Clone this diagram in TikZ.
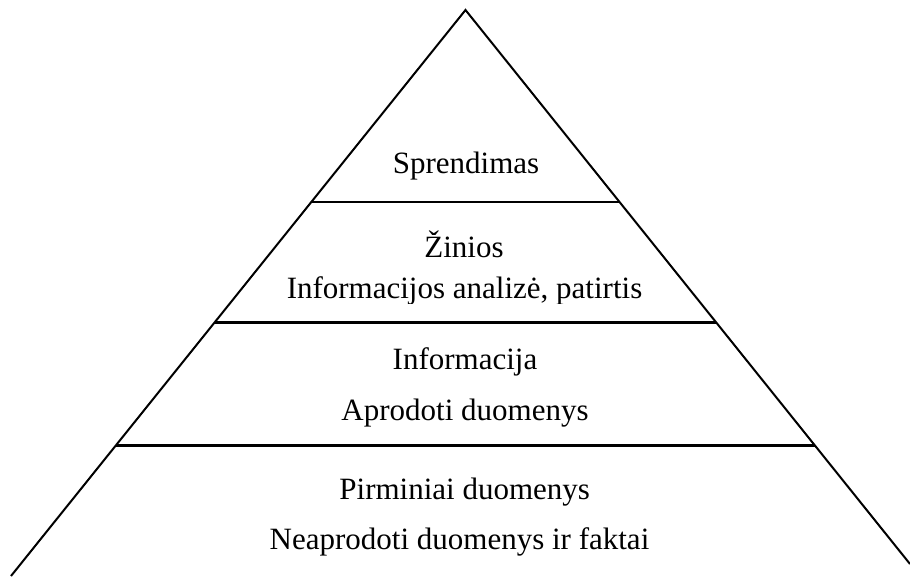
\documentclass[tikz,border=0pt]{standalone}
\usepackage{fontspec}
\setmainfont{Liberation Serif}
\begin{document}
\begin{tikzpicture}[x=1pt,y=-1pt,
  edge/.style={line width=2pt,line cap=butt},
  tier/.style={line width=2.2pt},
  tiertext/.style={anchor=base,inner sep=0pt,font=\fontsize{31}{37}\selectfont}]
\useasboundingbox (0,0) rectangle (910,576);
\clip (0,0) rectangle (910,576);

% pyramid outline
\coordinate (apex) at (465.5,10);
\coordinate (bl) at (11,576);
\coordinate (br) at (910,564);
\draw[edge] (bl) -- (apex) -- (br);

% tier separators
\coordinate (s1l) at (311.5,202);
\coordinate (s1r) at (619.5,202);
\coordinate (s2l) at (214.9,322.5);
\coordinate (s2r) at (716.1,322.5);
\coordinate (s3l) at (116.2,445.5);
\coordinate (s3r) at (814.8,445.5);
\draw[tier] (s1l) -- (s1r);
\draw[tier] (s2l) -- (s2r);
\draw[tier] (s3l) -- (s3r);

% tier texts
\node[tiertext] (sprendimas) at (466,173.3) {Sprendimas};
\node[tiertext] (zinios) at (464,257.3) {Žinios};
\begin{scope}
  \clip (0,0) rectangle (910,303);
  \node[tiertext] (analize) at (464.5,298.3) {Informacijos analizė, patirtis};
\end{scope}
\node[tiertext] (informacija) at (465,369.3) {Informacija};
\node[tiertext] (aprodoti) at (465,420.7) {Aprodoti duomenys};
\node[tiertext] (pirminiai) at (464.7,499.3) {Pirminiai duomenys};
\node[tiertext] (neaprodoti) at (459.5,549.3) {Neaprodoti duomenys ir faktai};
\end{tikzpicture}
\end{document}
